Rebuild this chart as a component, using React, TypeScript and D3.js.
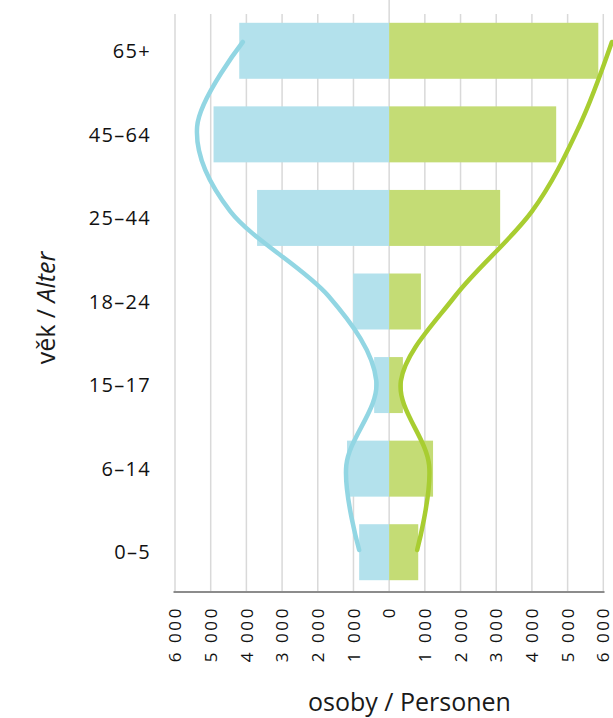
import React from "react";
import * as d3 from "d3";

// Age groups, top → bottom
const categories = ["65+", "45–64", "25–44", "18–24", "15–17", "6–14", "0–5"];
// Bars (persons)
const leftValues = [4200, 4920, 3700, 1010, 420, 1180, 840];
const rightValues = [5860, 4680, 3110, 890, 385, 1230, 815];
// Smoothed outline curves (persons), same order
const leftCurve = [4100, 5380, 4450, 1700, 360, 1200, 840];
const rightCurve = [6240, 5320, 4000, 1850, 330, 1120, 785];
// Axis ticks
const xTicks = [-6000, -5000, -4000, -3000, -2000, -1000, 0, 1000, 2000, 3000, 4000, 5000, 6000];

const W = 613;
const H = 718;

const FONT = "'Open Sans', 'Noto Sans', sans-serif";

export default function App() {
  const x = d3.scaleLinear().domain([-6000, 6000]).range([175, 603.3]);
  const y = d3
    .scaleBand<string>()
    .domain(categories)
    .range([9, 594])
    .paddingInner(0.33)
    .paddingOuter(0.165);
  const yLine = d3.scaleLinear().domain([0, categories.length - 1]).range([42, 550]);

  const leftLine = d3
    .line<number>()
    .x((v) => x(-v))
    .y((_, i) => yLine(i))
    .curve(d3.curveCatmullRom.alpha(0));
  const rightLine = d3
    .line<number>()
    .x((v) => x(v))
    .y((_, i) => yLine(i))
    .curve(d3.curveCatmullRom.alpha(0));

  const fmt = (v: number) => d3.format(",")(Math.abs(v)).replace(/,/g, " ");
  const axisY = 592;

  return (
    <div style={{ position: "absolute", left: 0, top: 0 }}>
      <svg width={W} height={H} style={{ display: "block" }}>
        {/* gridlines */}
        {xTicks.map((t) => (
          <line
            key={"g" + t}
            x1={x(t)}
            x2={x(t)}
            y1={t === 0 ? 0 : 14}
            y2={axisY}
            stroke="#d9d9d9"
            strokeWidth={1.5}
          />
        ))}
        {/* bars */}
        {categories.map((c, i) => (
          <g key={"b" + c}>
            <rect
              x={x(-leftValues[i])}
              y={y(c)}
              width={x(0) - x(-leftValues[i])}
              height={y.bandwidth()}
              fill="#b3e1ec"
            />
            <rect
              x={x(0)}
              y={y(c)}
              width={x(rightValues[i]) - x(0)}
              height={y.bandwidth()}
              fill="#c4dc75"
            />
          </g>
        ))}
        {/* axis line */}
        <line x1={173.5} x2={604.5} y1={axisY} y2={axisY} stroke="#8c8c8c" strokeWidth={2} />
        {/* curves */}
        <path
          d={leftLine(leftCurve) || ""}
          fill="none"
          stroke="#92d6e3"
          strokeWidth={4.5}
          strokeLinecap="round"
        />
        <path
          d={rightLine(rightCurve) || ""}
          fill="none"
          stroke="#a8cd31"
          strokeWidth={4.5}
          strokeLinecap="round"
        />
        {/* y tick labels */}
        {categories.map((c) => (
          <text
            key={"yl" + c}
            x={151}
            y={(y(c) as number) + y.bandwidth() / 2}
            dy="0.36em"
            textAnchor="end"
            fontFamily={FONT}
            fontSize={20}
            letterSpacing={1.3}
            fill="#111"
          >
            {c}
          </text>
        ))}
        {/* x tick labels */}
        {xTicks.map((t) => (
          <text
            key={"xl" + t}
            transform={`translate(${x(t)},606) rotate(-90)`}
            dy="0.36em"
            textAnchor="end"
            fontFamily={FONT}
            fontSize={17}
            letterSpacing={2.6}
            fill="#111"
          >
            {fmt(t)}
          </text>
        ))}
        {/* axis titles */}
        <text
          x={409.5}
          y={711}
          textAnchor="middle"
          fontFamily={FONT}
          fontSize={25}
          fill="#1a1a1a"
        >
          osoby / Personen
        </text>
        <text
          transform="translate(55,308) rotate(-90)"
          textAnchor="middle"
          fontFamily={FONT}
          fontSize={25}
          fill="#1a1a1a"
        >
          věk / <tspan fontStyle="italic">Alter</tspan>
        </text>
      </svg>
    </div>
  );
}
